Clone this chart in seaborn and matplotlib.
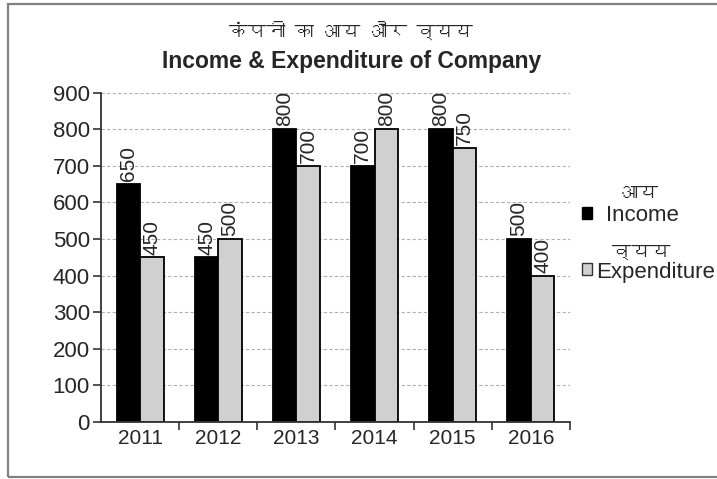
import matplotlib
matplotlib.use("Agg")
import matplotlib.pyplot as plt
import matplotlib.font_manager as fm
from matplotlib.ft2font import FT2Font
from matplotlib.patches import Patch, Rectangle
import pandas as pd
import seaborn as sns

years = ["2011", "2012", "2013", "2014", "2015", "2016"]
income = [650, 450, 800, 700, 800, 500]
expenditure = [450, 500, 700, 800, 750, 400]
series = ["Income", "Expenditure"]
series_hi = ["आय", "व्यय"]
title_hi = "कंपनी का आय और व्यय"
title_en = "Income & Expenditure of Company"
colors = ["#000000", "#d0d0d0"]


def find_devanagari_font():
    # look for any installed font that has Devanagari glyphs
    for f in fm.fontManager.ttflist:
        try:
            if 0x0915 in FT2Font(f.fname).get_charmap():
                return f.name
        except Exception:
            continue
    return None


sns.set_theme(style="white")
base = ["Liberation Sans", "DejaVu Sans"]
deva = find_devanagari_font()
fam = ([deva] if deva else []) + base
plt.rcParams["font.family"] = base

df = pd.DataFrame({
    "year": years * 2,
    "value": income + expenditure,
    "series": [series[0]] * len(years) + [series[1]] * len(years),
})

fig = plt.figure(figsize=(7.17, 4.79), dpi=100)
ax = fig.add_axes([0.1409, 0.119, 0.654, 0.6875])

sns.barplot(data=df, x="year", y="value", hue="series", palette=colors,
            width=0.6, edgecolor="black", linewidth=1.3, ax=ax, legend=False)

for cont in ax.containers:
    ax.bar_label(cont, rotation=90, padding=2, fontsize=15)

ax.set_ylim(0, 900)
ax.set_xlim(-0.5, 5.5)
ax.set_yticks(range(0, 901, 100))
ax.yaxis.grid(True, linestyle=(0, (3, 2)), color="#b0b0b0", linewidth=0.8)
ax.set_axisbelow(True)
ax.set_xlabel("")
ax.set_ylabel("")
for s in ["top", "right"]:
    ax.spines[s].set_visible(False)
for s in ["left", "bottom"]:
    ax.spines[s].set_color("#333333")
    ax.spines[s].set_linewidth(1.3)

ax.tick_params(axis="y", length=6, width=1.2, color="#333333", labelsize=16, pad=2, left=True)
ax.tick_params(axis="x", which="major", length=0, labelsize=15, pad=5)
ax.set_xticks([i + 0.5 for i in range(len(years))], minor=True)
ax.tick_params(axis="x", which="minor", length=6, width=1.2, color="#333333", bottom=True)

# two-line title: Hindi above, English below
fig.text(0.49, 0.937, title_hi, ha="center", va="center", fontsize=13.5, family=fam)
fig.text(0.49, 0.871, title_en, ha="center", va="center", fontsize=16.5, fontweight="bold")

# legend markers, labels written separately so they can be centred like the original
handles = [Patch(facecolor=colors[0], edgecolor="black"),
           Patch(facecolor=colors[1], edgecolor="#333333")]
ax.legend(handles, ["", ""], loc="center left", bbox_to_anchor=(0.8117, 0.4916),
          bbox_transform=fig.transFigure, frameon=False, fontsize=16,
          handlelength=0.45, handleheight=0.45, handletextpad=0,
          labelspacing=1.58, borderpad=0, borderaxespad=0)
fig.text(0.891, 0.597, series_hi[0], ha="center", va="center", fontsize=14, family=fam)
fig.text(0.896, 0.551, series[0], ha="center", va="center", fontsize=16)
fig.text(0.895, 0.474, series_hi[1], ha="center", va="center", fontsize=14, family=fam)
fig.text(0.831, 0.432, series[1], ha="left", va="center", fontsize=16)

fig.patches.append(Rectangle((8 / 717, 2 / 479), 1.0, 1 - 6 / 479, transform=fig.transFigure,
                             fill=False, edgecolor="#808080", linewidth=1.6))

fig.savefig("out.png", dpi=100)
